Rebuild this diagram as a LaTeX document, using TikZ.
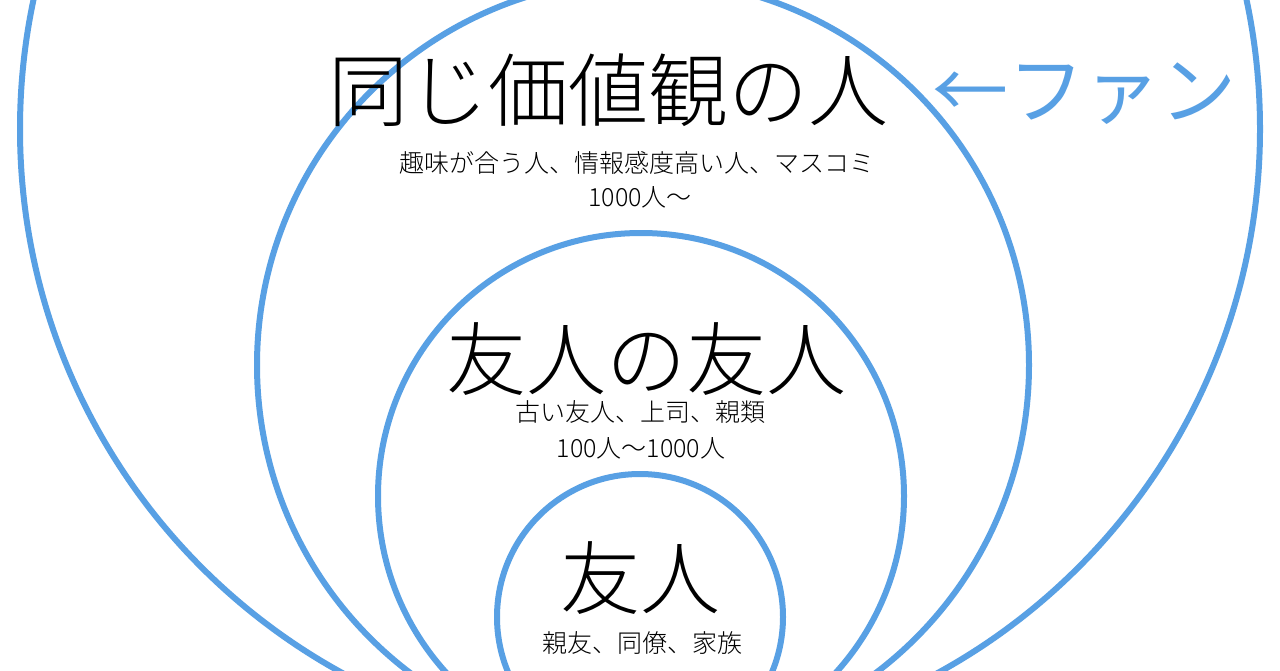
\documentclass[tikz,border=0pt]{standalone}
\usepackage{fontspec}
\setmainfont{Noto Sans CJK JP}
\IfFontExistsTF{Noto Sans CJK JP Light}
  {\newfontfamily\lightjp{Noto Sans CJK JP Light}}
  {\newfontfamily\lightjp{Noto Sans CJK JP}}
\definecolor{ringblue}{RGB}{88,160,228}
\begin{document}
\begin{tikzpicture}[x=1pt,y=-1pt,
  ring/.style={draw=ringblue,line width=6pt},
  bigtext/.style={font=\lightjp\fontsize{80}{80}\selectfont,anchor=base,inner sep=0pt},
  smalltext/.style={font=\lightjp\fontsize{25}{25}\selectfont,anchor=base,inner sep=0pt},
  fantext/.style={font=\fontsize{76}{76}\selectfont,anchor=base west,inner sep=0pt,text=ringblue}]
\fill[white] (0,0) rectangle (1280,670);
\useasboundingbox (0,0) rectangle (1280,670);
\begin{scope}
\clip (0,0) rectangle (1280,670);
\draw[ring] (640,129) circle[radius=620];
\draw[ring] (643,365) circle[radius=386];
\draw[ring] (641,496) circle[radius=263];
\draw[ring] (640,617) circle[radius=143];
\end{scope}
\node[bigtext] (t1) at (608,120) {同じ価値観の人};
\node[smalltext] (s1a) at (637,172) {趣味が合う人、情報感度高い人、マスコミ};
\node[smalltext] (s1b) at (640,206) {1000人〜};
\node[bigtext] (t2) at (646,389) {友人の友人};
\node[smalltext] (s2a) at (640,421) {古い友人、上司、親類};
\node[smalltext] (s2b) at (641,457) {100人〜1000人};
\node[bigtext] (t3) at (640,608) {友人};
\node[smalltext] (s3a) at (642,652) {親友、同僚、家族};
\node[fantext] (fan) at (932,118) {←ファン};
\end{tikzpicture}
\end{document}
